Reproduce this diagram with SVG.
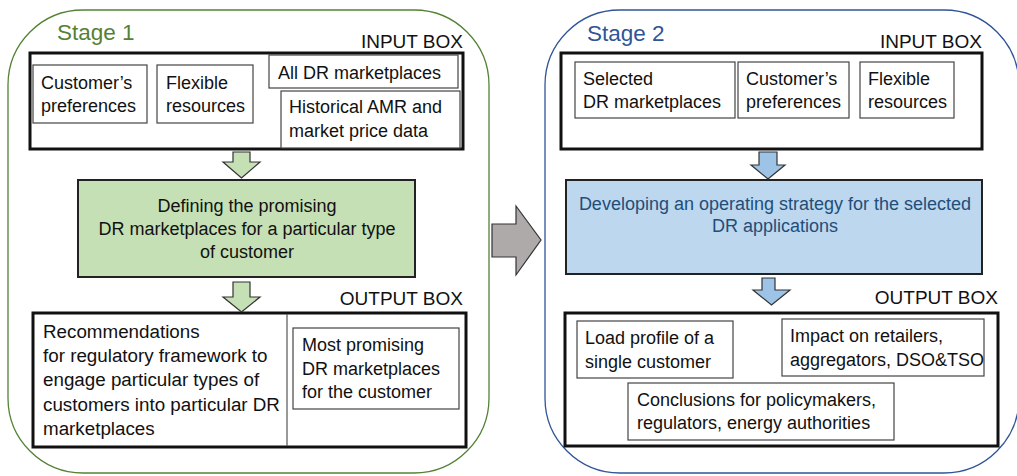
<svg xmlns="http://www.w3.org/2000/svg" width="1017" height="476" viewBox="0 0 1017 476">
  <defs>
    <style>
      text { font-family: "Liberation Sans", Arial, sans-serif; font-size: 18px; fill: #111; }
      .stage1 { fill: none; stroke: #548235; stroke-width: 1.3; }
      .stage2 { fill: none; stroke: #2f5597; stroke-width: 1.3; }
      .title1 { font-size: 22.5px; fill: #548235; }
      .title2 { font-size: 22.5px; fill: #2f5597; }
      .label { font-size: 19px; text-anchor: end; }
      .big { font-size: 18.8px; }
      .frame { fill: #fff; stroke: #111; stroke-width: 3; }
      .item { fill: #fff; stroke: #444; stroke-width: 1.2; }
      .green { fill: #c5e0b4; stroke: #222; stroke-width: 2; }
      .blue { fill: #bdd7ee; stroke: #222; stroke-width: 2; }
      .garrow { fill: #c5e0b4; stroke: #333; stroke-width: 1.2; }
      .barrow { fill: #9dc3e6; stroke: #333; stroke-width: 1.2; }
      .gray { fill: #aeaaaa; stroke: #333; stroke-width: 1.2; }
      .mid { text-anchor: middle; }
      .dblue { fill: #1f4e79; }
    </style>
  </defs>

  <!-- Stage 1 -->
  <g id="stage1">
    <rect class="stage1" x="8" y="10" width="481" height="463" rx="75" ry="75"/>
    <text class="title1" x="57" y="40">Stage 1</text>
  </g>

  <g id="s1-input">
    <text class="label" x="463" y="48">INPUT BOX</text>
    <rect class="frame" x="30" y="53" width="433" height="96"/>
    <rect class="item" x="33" y="65" width="114" height="58"/>
    <text x="41" y="89">Customer’s</text>
    <text x="41" y="112">preferences</text>
    <rect class="item" x="157" y="65" width="96" height="58"/>
    <text x="166" y="89">Flexible</text>
    <text x="166" y="112">resources</text>
    <rect class="item" x="269" y="55" width="189" height="33"/>
    <text x="278" y="79">All DR marketplaces</text>
    <rect class="item" x="281" y="91" width="179" height="57"/>
    <text x="289" y="113">Historical AMR and</text>
    <text x="289" y="137">market price data</text>
  </g>

  <g id="s1-process">
    <rect class="green" x="78" y="180" width="337" height="97"/>
    <text class="mid" x="247" y="212">Defining the promising</text>
    <text class="mid" x="247" y="235">DR marketplaces for a particular type</text>
    <text class="mid" x="247" y="258">of customer</text>
  </g>

  <g id="s1-output">
    <text class="label" x="463" y="305">OUTPUT BOX</text>
    <rect class="frame" x="33" y="313" width="433" height="134"/>
    <line x1="287" y1="314" x2="287" y2="446" stroke="#555" stroke-width="1.2"/>
    <text class="big" x="43" y="338">Recommendations</text>
    <text class="big" x="43" y="362">for regulatory framework to</text>
    <text class="big" x="43" y="386">engage particular types of</text>
    <text class="big" x="43" y="411">customers into particular DR</text>
    <text class="big" x="43" y="435">marketplaces</text>
    <rect class="item" x="293" y="328" width="166" height="81"/>
    <text x="302" y="351">Most promising</text>
    <text x="302" y="375">DR marketplaces</text>
    <text x="302" y="398">for the customer</text>
  </g>

  <!-- Stage 2 -->
  <g id="stage2">
    <rect class="stage2" x="545" y="10" width="474" height="463" rx="75" ry="75"/>
    <text class="title2" x="587" y="41">Stage 2</text>
  </g>

  <g id="s2-input">
    <text class="label" x="982" y="48">INPUT BOX</text>
    <rect class="frame" x="561" y="53" width="421" height="96"/>
    <rect class="item" x="575" y="62" width="160" height="56"/>
    <text x="583" y="85">Selected</text>
    <text x="583" y="108">DR marketplaces</text>
    <rect class="item" x="738" y="62" width="111" height="56"/>
    <text x="746" y="85">Customer’s</text>
    <text x="746" y="108">preferences</text>
    <rect class="item" x="860" y="62" width="94" height="56"/>
    <text x="868" y="85">Flexible</text>
    <text x="868" y="108">resources</text>
  </g>

  <g id="s2-process">
    <rect class="blue" x="566" y="180" width="416" height="94"/>
    <text class="mid dblue" x="775" y="210">Developing an operating strategy for the selected</text>
    <text class="mid dblue" x="775" y="232">DR applications</text>
  </g>

  <g id="s2-output">
    <text class="label" x="998" y="304">OUTPUT BOX</text>
    <rect class="frame" x="565" y="313" width="433" height="133"/>
    <rect class="item" x="577" y="321" width="156" height="57"/>
    <text x="585" y="344">Load profile of a</text>
    <text x="585" y="368">single customer</text>
    <rect class="item" x="782" y="319" width="202" height="57"/>
    <text x="790" y="342">Impact on retailers,</text>
    <text x="790" y="366">aggregators, DSO&amp;TSO</text>
    <rect class="item" x="628" y="383" width="266" height="57"/>
    <text x="637" y="406">Conclusions for policymakers,</text>
    <text x="637" y="429">regulators, energy authorities</text>
  </g>

  <!-- Block arrows linking the boxes -->
  <g id="connectors">
    <path class="garrow" d="M233,152 H250 V162 H260 L241.5,178 L223,162 H233 Z"/>
    <path class="garrow" d="M233,282 H250 V297 H260 L241.5,312 L223,297 H233 Z"/>
    <path class="barrow" d="M759,152 H777 V165 H785 L768,179 L751,165 H759 Z"/>
    <path class="barrow" d="M762,278 H775 V290 H790 L771.5,305 L753,290 H762 Z"/>
    <path class="gray" d="M492,224 H516 V206 L541,240 L516,275 V257 H492 Z"/>
  </g>
</svg>
